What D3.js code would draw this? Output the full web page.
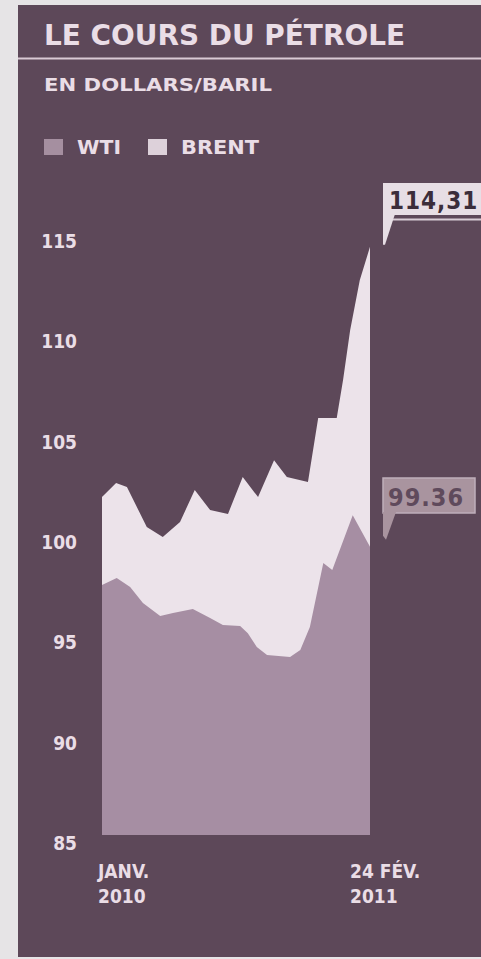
<!DOCTYPE html>
<html>
<head>
<meta charset="utf-8">
<script src="https://cdn.jsdelivr.net/npm/d3@7/dist/d3.min.js"></script>
<style>
  html, body { margin: 0; padding: 0; background: #e6e4e6; }
  svg { display: block; }
  text { font-family: "DejaVu Sans Condensed", "DejaVu Sans", sans-serif; font-stretch: condensed; font-weight: bold; }
</style>
</head>
<body>
<svg id="chart" width="481" height="959"></svg>
<script>
// ---- data ----
const brentDates = ["2010-01-01","2010-01-23","2010-02-09","2010-03-12","2010-04-06","2010-05-03","2010-05-26","2010-06-19","2010-07-17","2010-08-09","2010-09-02","2010-09-27","2010-10-17","2010-11-19","2010-12-05","2011-01-03","2011-01-13","2011-01-24","2011-02-08","2011-02-24"];
const brentValues = [101.84,102.54,102.34,100.35,99.85,100.6,102.19,101.2,101.0,102.84,101.84,103.68,102.84,102.59,105.78,105.78,107.7,110.16,112.65,114.31];
const wtiDates = ["2010-01-01","2010-01-24","2010-02-14","2010-03-06","2010-04-02","2010-04-22","2010-05-23","2010-06-19","2010-07-09","2010-08-05","2010-08-17","2010-08-31","2010-09-16","2010-10-22","2010-11-07","2010-11-22","2010-12-13","2010-12-27","2011-01-28","2011-02-24"];
const wtiValues = [97.46,97.81,97.36,96.56,95.91,96.06,96.26,95.81,95.46,95.41,95.06,94.37,93.97,93.87,94.22,95.36,98.55,98.2,100.94,99.36];
const yTicks = [85, 90, 95, 100, 105, 110, 115];
const xTickDates = ["2010-01-01", "2011-02-24"];
const xTickLabels = [["JANV.", "2010"], ["24 FÉV.", "2011"]];
const seriesNames = ["WTI", "BRENT"];
const titleText = "LE COURS DU PÉTROLE";
const subtitleText = "EN DOLLARS/BARIL";

// ---- styles ----
const C = {
  panel: "#5d4859",
  text: "#eadde6",
  brent: "#ece3ea",
  wti: "#a68ea3",
  wtiLegend: "#a58fa0",
  brentLegend: "#ddd1da"
};

const parse = d3.timeParse("%Y-%m-%d");
const brent = brentDates.map((d, i) => ({ date: parse(d), v: brentValues[i] }));
const wti = wtiDates.map((d, i) => ({ date: parse(d), v: wtiValues[i] }));

const svg = d3.select("#chart");

// panel
svg.append("rect").attr("x", 18).attr("y", 5).attr("width", 463).attr("height", 952).attr("fill", C.panel);

// title
svg.append("text").attr("x", 44).attr("y", 45).attr("fill", C.text)
  .attr("font-size", 28).attr("textLength", 361).attr("lengthAdjust", "spacingAndGlyphs")
  .text(titleText);
svg.append("line").attr("x1", 18).attr("x2", 481).attr("y1", 58.5).attr("y2", 58.5)
  .attr("stroke", "#d9c9d4").attr("stroke-width", 2);
svg.append("text").attr("x", 44).attr("y", 91).attr("fill", C.text)
  .attr("font-size", 18).attr("textLength", 228).attr("lengthAdjust", "spacingAndGlyphs")
  .text(subtitleText);

// legend
const legend = svg.append("g");
const legendItems = [
  { name: seriesNames[0], color: C.wtiLegend, x: 44, w: 44 },
  { name: seriesNames[1], color: C.brentLegend, x: 148, w: 78 }
];
legendItems.forEach(it => {
  legend.append("rect").attr("x", it.x).attr("y", 139).attr("width", 19).attr("height", 16).attr("fill", it.color);
  legend.append("text").attr("x", it.x + 33).attr("y", 154).attr("fill", C.text)
    .attr("font-size", 19).attr("textLength", it.w).attr("lengthAdjust", "spacingAndGlyphs").text(it.name);
});

// scales
const x = d3.scaleTime().domain([parse(xTickDates[0]), parse(xTickDates[1])]).range([102, 370]);
const y = d3.scaleLinear().domain([85, 115]).range([835, 233]);

const area = d3.area().x(d => x(d.date)).y0(y(85)).y1(d => y(d.v));
svg.append("path").datum(brent).attr("d", area).attr("fill", C.brent);
svg.append("path").datum(wti).attr("d", area).attr("fill", C.wti);

// y axis
const yAxis = svg.append("g").attr("transform", "translate(77,0)")
  .call(d3.axisLeft(y).tickValues(yTicks).tickSize(0).tickPadding(0));
yAxis.select(".domain").remove();
yAxis.selectAll("text").attr("fill", C.text).attr("font-size", 19)
  .attr("font-family", null).attr("text-anchor", "end").attr("dy", "0.35em")
  .attr("transform", "translate(0,8)");

// x axis labels
const xl = svg.append("g");
xTickDates.forEach((d, i) => {
  const t = xl.append("text").attr("x", x(parse(d)) + (i === 0 ? -4 : -20)).attr("y", 878)
    .attr("fill", C.text).attr("font-size", 19);
  t.append("tspan").text(xTickLabels[i][0]);
  t.append("tspan").attr("x", x(parse(d)) + (i === 0 ? -4 : -20)).attr("dy", 25).text(xTickLabels[i][1]);
});

// callouts
const fmtBrent = v => d3.format(".2f")(v).replace(".", ",");
const fmtWti = v => d3.format(".2f")(v);
const lastB = brent[brent.length - 1], lastW = wti[wti.length - 1];

// Brent callout (light box, dark text)
{
  const bx = x(lastB.date) + 13, tipY = y(lastB.v) - 2;
  const g = svg.append("g");
  g.append("rect").attr("x", bx).attr("y", 183).attr("width", 481 - bx).attr("height", 32).attr("fill", "#e7dee5");
  g.append("path").attr("d", `M${bx},214 L${bx + 12},214 L${bx + 2},${tipY} L${bx},${tipY} Z`).attr("fill", "#e7dee5");
  g.append("line").attr("x1", bx + 10).attr("x2", 481).attr("y1", 219.5).attr("y2", 219.5).attr("stroke", "#d8ccd5").attr("stroke-width", 2);
  g.append("text").attr("x", bx + 6).attr("y", 209).attr("fill", "#3b2d3a").attr("font-size", 24)
    .attr("letter-spacing", 1).text(fmtBrent(lastB.v));
}
// WTI callout (muted box)
{
  const bx = x(lastW.date) + 13, tipY = y(lastW.v) - 7;
  const g = svg.append("g");
  g.append("rect").attr("x", bx).attr("y", 478).attr("width", 92).attr("height", 35)
    .attr("fill", "#a9949f").attr("stroke", "#bfaebb").attr("stroke-width", 1.5);
  g.append("path").attr("d", `M${bx},512 L${bx + 13},512 L${bx + 3},${tipY} L${bx},${tipY - 4} Z`).attr("fill", "#a9949f");
  g.append("text").attr("x", bx + 5).attr("y", 506).attr("fill", "#5f4a5c").attr("font-size", 25)
    .attr("letter-spacing", 1).text(fmtWti(lastW.v));
}
</script>
</body>
</html>
